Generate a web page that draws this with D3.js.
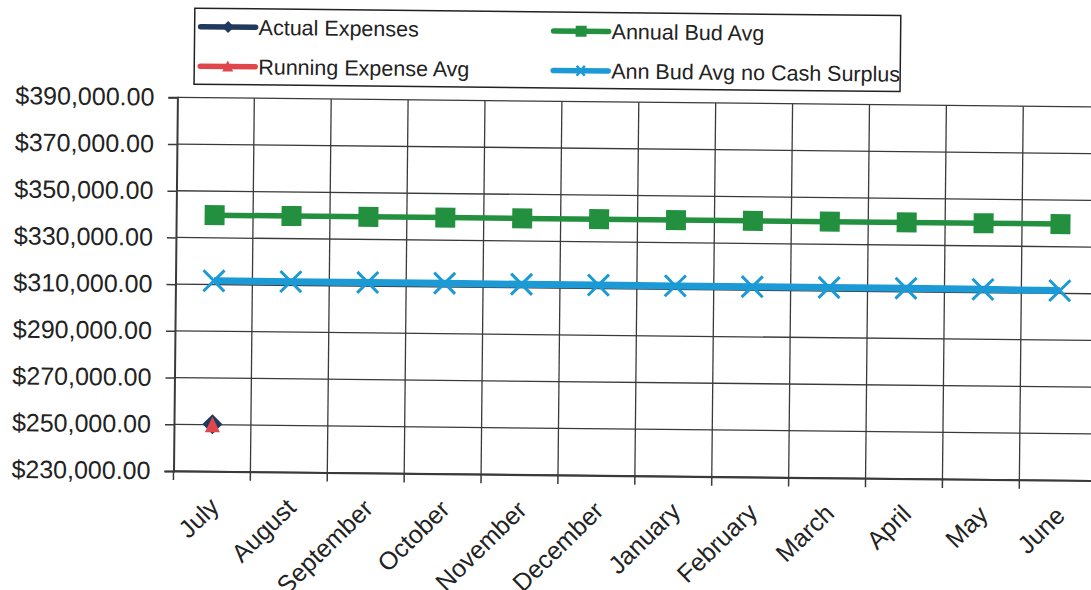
<!DOCTYPE html>
<html>
<head>
<meta charset="utf-8">
<script src="https://cdn.jsdelivr.net/npm/d3@7"></script>
<style>
  html, body { margin: 0; padding: 0; background: #fff; }
  svg { display: block; font-family: "Liberation Sans", Arial, sans-serif; }
</style>
</head>
<body>
<svg id="chart" width="1091" height="590"></svg>
<script>
// Fiscal-year months
const months = ["July", "August", "September", "October", "November", "December",
                "January", "February", "March", "April", "May", "June"];

// Series values (dollars); null = no entry yet
const actualExpenses    = [250200, null, null, null, null, null, null, null, null, null, null, null];
const runningExpenseAvg = [250200, null, null, null, null, null, null, null, null, null, null, null];
const annualBudAvg      = [339700, 339700, 339700, 339700, 339700, 339700, 339700, 339700, 339700, 339700, 339700, 339700];
const annBudNoSurplus   = [311600, 311600, 311600, 311600, 311500, 311500, 311500, 311500, 311500, 311500, 311400, 311200];

// Value-axis tick labels
const yTicks = [230000, 250000, 270000, 290000, 310000, 330000, 350000, 370000, 390000];

const seriesNames = ["Actual Expenses", "Annual Bud Avg", "Running Expense Avg", "Ann Bud Avg no Cash Surplus"];

const colors = {
  actual: "#1f3a5c",
  annual: "#23903f",
  running: "#e0474c",
  noSurplus: "#1b9ad6",
  grid: "#3a3a3a",
  text: "#222"
};

const svg = d3.select("#chart");
const plot = { left: 173.5, right: 1096.3, top: 97.3, bottom: 471 };

// The whole printed sheet sits very slightly askew
const root = svg.append("g").attr("transform", `rotate(0.6, ${plot.left}, ${plot.bottom})`);

const x = d3.scaleBand().domain(months).range([plot.left, plot.right]).padding(0);
const y = d3.scaleLinear().domain([230000, 390000]).range([plot.bottom, plot.top]);

// Horizontal gridlines
root.append("g").selectAll("line").data(yTicks).join("line")
  .attr("x1", plot.left).attr("x2", plot.right + 40)
  .attr("y1", d => y(d)).attr("y2", d => y(d))
  .attr("stroke", colors.grid).attr("stroke-width", 1.3);

// Vertical gridlines at category boundaries
const bounds = months.map(m => x(m)).concat([x(months[months.length - 1]) + x.bandwidth()]);
root.append("g").selectAll("line").data(bounds.slice(1)).join("line")
  .attr("x1", d => d).attr("x2", d => d)
  .attr("y1", y(390000)).attr("y2", y(230000))
  .attr("stroke", colors.grid).attr("stroke-width", 1.3);

// Category tick marks below the axis
root.append("g").selectAll("line").data(bounds).join("line")
  .attr("x1", d => d).attr("x2", d => d)
  .attr("y1", plot.bottom).attr("y2", plot.bottom + 9)
  .attr("stroke", colors.grid).attr("stroke-width", 1.5);

// Value axis
const yAxis = root.append("g")
  .attr("transform", `translate(${plot.left},0)`)
  .call(d3.axisLeft(y).tickValues(yTicks).tickSize(9).tickPadding(14)
        .tickFormat(d => "$" + d3.format(",.2f")(d)));
yAxis.select(".domain").attr("stroke", colors.grid).attr("stroke-width", 2);
yAxis.selectAll(".tick line").attr("stroke", colors.grid).attr("stroke-width", 1.5);
yAxis.selectAll(".tick text").attr("fill", colors.text).attr("font-size", 25)
  .attr("font-family", "'Liberation Sans', Arial, sans-serif");

// Category axis
const xAxis = root.append("g")
  .attr("transform", `translate(0,${plot.bottom})`)
  .call(d3.axisBottom(x).tickSize(0).tickSizeOuter(0));
xAxis.select(".domain").attr("stroke", colors.grid).attr("stroke-width", 2);
xAxis.selectAll(".tick text")
  .attr("fill", colors.text).attr("font-size", 25)
  .attr("font-family", "'Liberation Sans', Arial, sans-serif")
  .attr("text-anchor", "end")
  .attr("dy", null).attr("y", null)
  .attr("transform", "translate(9,37) rotate(-45)");

const cx = i => x(months[i]) + x.bandwidth() / 2;
const lineGen = d3.line().defined(d => d.v != null).x(d => cx(d.i)).y(d => y(d.v));
const toPts = arr => arr.map((v, i) => ({ v, i }));

// Budget lines
root.append("path").datum(toPts(annBudNoSurplus))
  .attr("fill", "none").attr("stroke", colors.noSurplus).attr("stroke-width", 7)
  .attr("d", lineGen);
root.append("path").datum(toPts(annualBudAvg))
  .attr("fill", "none").attr("stroke", colors.annual).attr("stroke-width", 5.5)
  .attr("d", lineGen);

// Markers
const sq = 20;
root.append("g").selectAll("rect").data(toPts(annualBudAvg).filter(d => d.v != null)).join("rect")
  .attr("x", d => cx(d.i) - sq / 2).attr("y", d => y(d.v) - sq / 2)
  .attr("width", sq).attr("height", sq).attr("fill", colors.annual);

const xs = 10.5;
root.append("g").selectAll("path").data(toPts(annBudNoSurplus).filter(d => d.v != null)).join("path")
  .attr("d", d => {
    const px = cx(d.i), py = y(d.v);
    return `M${px - xs},${py - xs}L${px + xs},${py + xs}M${px - xs},${py + xs}L${px + xs},${py - xs}`;
  })
  .attr("stroke", colors.noSurplus).attr("stroke-width", 3).attr("fill", "none");

root.append("g").selectAll("path").data(toPts(actualExpenses).filter(d => d.v != null)).join("path")
  .attr("transform", d => `translate(${cx(d.i)},${y(d.v)})`)
  .attr("d", "M0,-10L10,0L0,10L-10,0Z")
  .attr("fill", colors.actual);

root.append("g").selectAll("path").data(toPts(runningExpenseAvg).filter(d => d.v != null)).join("path")
  .attr("transform", d => `translate(${cx(d.i)},${y(d.v)})`)
  .attr("d", "M0,-7.5L7.5,8L-7.5,8Z")
  .attr("fill", colors.running);

// Legend
const legend = root.append("g");
legend.append("rect").attr("x", 190).attr("y", 8).attr("width", 706).attr("height", 76)
  .attr("fill", "#fff").attr("stroke", "#222").attr("stroke-width", 1.5);

const legendItems = [
  { name: seriesNames[0], color: colors.actual, marker: "diamond", x: 196, y: 26.5 },
  { name: seriesNames[1], color: colors.annual, marker: "square", x: 549, y: 27 },
  { name: seriesNames[2], color: colors.running, marker: "triangle", x: 196, y: 66 },
  { name: seriesNames[3], color: colors.noSurplus, marker: "cross", x: 549, y: 66.5 }
];
const li = legend.selectAll("g.item").data(legendItems).join("g").attr("class", "item")
  .attr("transform", d => `translate(${d.x},${d.y})`);
li.append("line").attr("x1", 0).attr("x2", 55).attr("y1", 0).attr("y2", 0)
  .attr("stroke", d => d.color).attr("stroke-width", 5.5).attr("stroke-linecap", "round");
li.each(function (d) {
  const g = d3.select(this);
  if (d.marker === "diamond") g.append("path").attr("d", "M27.5,-6L33.5,0L27.5,6L21.5,0Z").attr("fill", d.color);
  if (d.marker === "square") g.append("rect").attr("x", 22).attr("y", -5.5).attr("width", 11).attr("height", 11).attr("fill", d.color);
  if (d.marker === "triangle") g.append("path").attr("d", "M27.5,-6L33,5L22,5Z").attr("fill", d.color);
  if (d.marker === "cross") g.append("path").attr("d", "M23.5,-5L31.5,5M23.5,5L31.5,-5").attr("stroke", d.color).attr("stroke-width", 2.5);
});
li.append("text").attr("x", 58).attr("y", 0).attr("dy", "0.35em")
  .attr("font-size", 21.5).attr("fill", colors.text).text(d => d.name);
</script>
</body>
</html>
